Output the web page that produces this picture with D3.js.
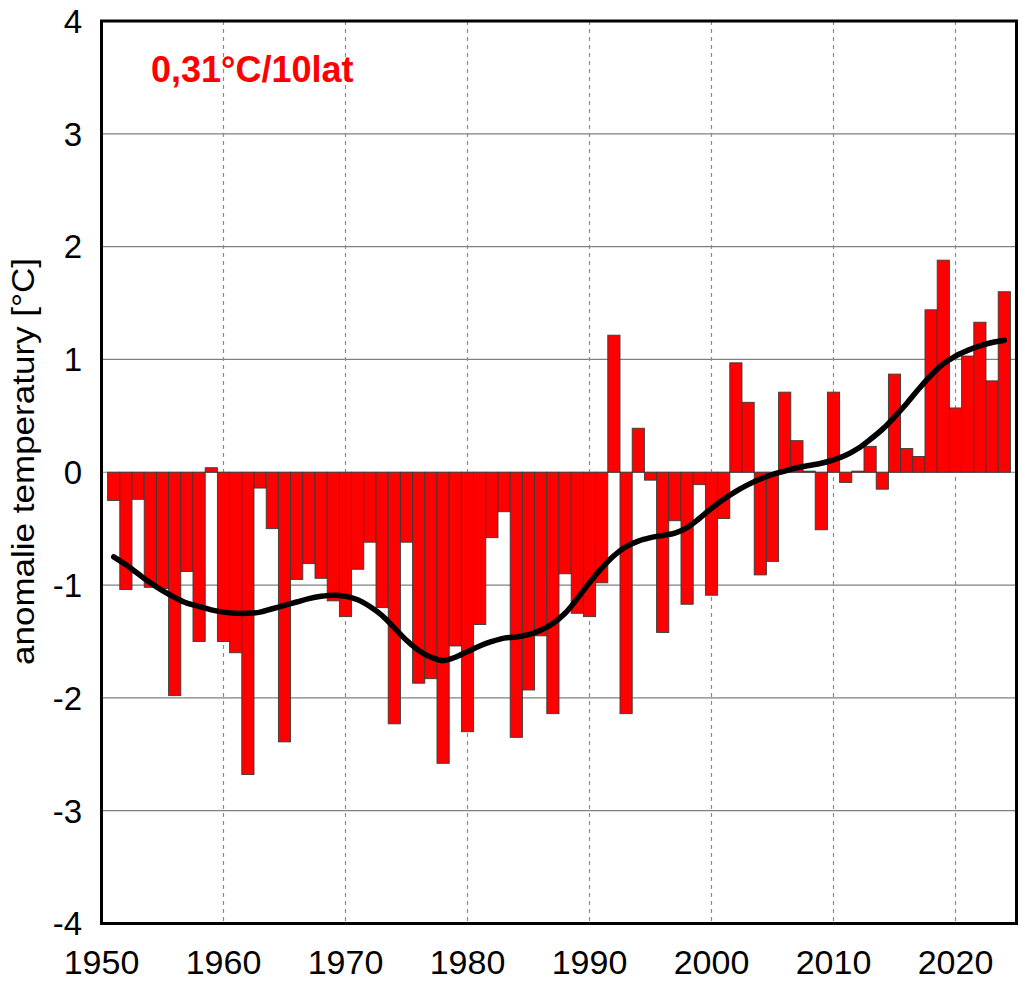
<!DOCTYPE html>
<html>
<head>
<meta charset="utf-8">
<script src="https://cdn.jsdelivr.net/npm/d3@7"></script>
<style>
  html, body { margin: 0; padding: 0; background: #fff; }
  svg { display: block; font-family: "Liberation Sans", Arial, sans-serif; }
</style>
</head>
<body>
<svg id="chart" width="1024" height="984"></svg>
<script>
// ---- data ----
const years = d3.range(1951, 2025);
const anomalies = [
  -0.25, -1.04, -0.24, -1.02, -1.03, -1.98, -0.88, -1.50, 0.04, -1.50,
  -1.60, -2.68, -0.14, -0.50, -2.39, -0.95, -0.81, -0.94, -1.14, -1.28,
  -0.86, -0.62, -1.20, -2.23, -0.62, -1.87, -1.83, -2.58, -1.54, -2.30,
  -1.35, -0.58, -0.35, -2.35, -1.93, -1.45, -2.14, -0.90, -1.25, -1.28,
  -0.98, 1.215, -2.14, 0.39, -0.07, -1.42, -0.43, -1.17, -0.11, -1.09,
  -0.41, 0.97, 0.62, -0.91, -0.79, 0.71, 0.28, 0.01, -0.51, 0.71,
  -0.09, 0.01, 0.23, -0.15, 0.87, 0.21, 0.14, 1.44, 1.88, 0.57,
  1.03, 1.33, 0.81, 1.60
];
const smooth = [
  -0.75, -0.82, -0.90, -0.98, -1.05, -1.11, -1.16, -1.19, -1.22, -1.24,
  -1.25, -1.25, -1.24, -1.21, -1.18, -1.15, -1.12, -1.10, -1.09, -1.10,
  -1.13, -1.19, -1.27, -1.38, -1.49, -1.58, -1.64, -1.67, -1.64, -1.59,
  -1.54, -1.50, -1.47, -1.46, -1.44, -1.40, -1.34, -1.25, -1.12, -0.98,
  -0.85, -0.74, -0.66, -0.61, -0.58, -0.56, -0.54, -0.49, -0.41, -0.32,
  -0.24, -0.17, -0.11, -0.06, -0.02, 0.01, 0.04, 0.06, 0.08, 0.11,
  0.15, 0.21, 0.29, 0.38, 0.49, 0.61, 0.74, 0.86, 0.96, 1.03,
  1.08, 1.12, 1.15, 1.17
];
const xTicks = [1950, 1960, 1970, 1980, 1990, 2000, 2010, 2020];
const yTicks = [-4, -3, -2, -1, 0, 1, 2, 3, 4];
const trendLabel = "0,31°C/10lat";
const yTitle = "anomalie temperatury [°C]";

// ---- layout ----
const L = 101.5, R = 1016.5, T = 21, B = 923.5;
const svg = d3.select("#chart");
const x = d3.scaleLinear().domain([1950, 2025]).range([L, R]);
const y = d3.scaleLinear().domain([-4, 4]).range([B, T]);

const data = years.map((yr, i) => ({ year: yr, v: anomalies[i], s: smooth[i] }));

// horizontal grid
svg.append("g").selectAll("line")
  .data(yTicks.filter(t => t > -4 && t < 4))
  .join("line")
  .attr("x1", L).attr("x2", R)
  .attr("y1", d => y(d)).attr("y2", d => y(d))
  .attr("stroke", "#808080").attr("stroke-width", 1.2);

// vertical dashed grid
svg.append("g").selectAll("line")
  .data(xTicks.filter(t => t > 1950))
  .join("line")
  .attr("x1", d => x(d)).attr("x2", d => x(d))
  .attr("y1", T).attr("y2", B)
  .attr("stroke", "#8a8a8a").attr("stroke-width", 1.2)
  .attr("stroke-dasharray", "4,4");

// bars
svg.append("g").selectAll("rect")
  .data(data)
  .join("rect")
  .attr("x", d => x(d.year - 0.5))
  .attr("width", d => x(d.year + 0.5) - x(d.year - 0.5))
  .attr("y", d => y(Math.max(0, d.v)))
  .attr("height", d => Math.abs(y(d.v) - y(0)))
  .attr("fill", "#ff0000")
  .attr("stroke", "#3a3a3a").attr("stroke-width", 0.9);

// smooth line
svg.append("path")
  .datum(data)
  .attr("fill", "none")
  .attr("stroke", "#000")
  .attr("stroke-width", 5.5)
  .attr("stroke-linecap", "round")
  .attr("stroke-linejoin", "round")
  .attr("d", d3.line().x(d => x(d.year)).y(d => y(d.s)).curve(d3.curveCatmullRom.alpha(0.5)));

// frame
svg.append("rect")
  .attr("x", L).attr("y", T).attr("width", R - L).attr("height", B - T)
  .attr("fill", "none").attr("stroke", "#000").attr("stroke-width", 3);

// y tick labels
svg.append("g").selectAll("text")
  .data(yTicks)
  .join("text")
  .attr("x", 82)
  .attr("y", d => y(d) + 0.358 * 33)
  .attr("text-anchor", "end")
  .attr("font-size", 33)
  .attr("fill", "#000")
  .text(d => d);

// x tick labels
svg.append("g").selectAll("text")
  .data(xTicks)
  .join("text")
  .attr("x", d => x(d))
  .attr("y", 974)
  .attr("text-anchor", "middle")
  .attr("font-size", 34)
  .attr("fill", "#000")
  .text(d => d);

// y axis title
svg.append("text")
  .attr("transform", "translate(34,461.5) rotate(-90)")
  .attr("text-anchor", "middle")
  .attr("font-size", 32)
  .attr("textLength", 407)
  .attr("lengthAdjust", "spacingAndGlyphs")
  .attr("fill", "#000")
  .text(yTitle);

// trend annotation
svg.append("text")
  .attr("x", 151)
  .attr("y", 82)
  .attr("font-size", 36)
  .attr("font-weight", "bold")
  .attr("fill", "#ff0000")
  .text(trendLabel);
</script>
</body>
</html>
